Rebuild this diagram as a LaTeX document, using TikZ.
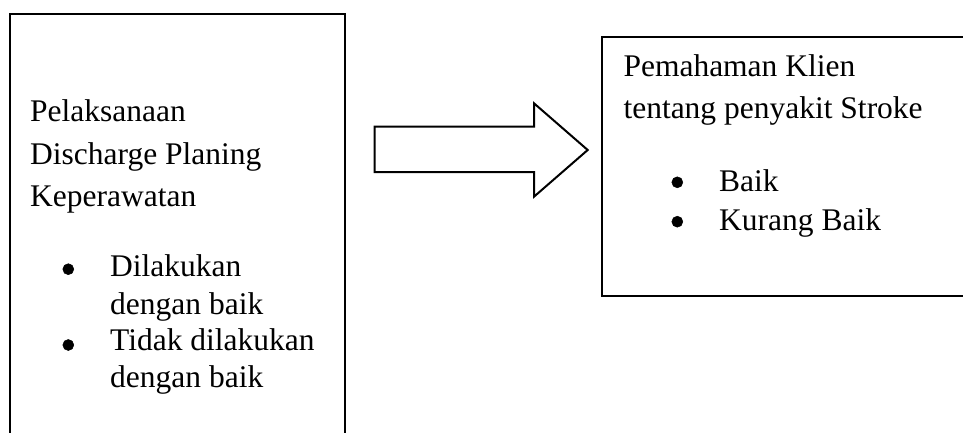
\documentclass[tikz,border=0pt]{standalone}
\usepackage{fontspec}
\setmainfont{Liberation Serif}
\begin{document}
\begin{tikzpicture}[x=1pt,y=-1pt,
  frame/.style={draw=black,line width=2pt},
  txt/.style={anchor=base west,inner sep=0pt,font=\fontsize{31.5}{38}\selectfont},
  dot/.style={circle,fill=black,draw=black,line width=0.5pt,inner sep=0pt,minimum size=11pt}]
\useasboundingbox (0,0) rectangle (963,433);
\clip (0,0) rectangle (963,433);
\fill[white] (0,0) rectangle (963,433);

% left box (runs past the bottom edge)
\draw[frame] (9.5,460) -- (9.5,14) -- (345,14) -- (345,460);
\node[txt] (l1) at (30,121.7) {Pelaksanaan};
\node[txt] (l2) at (30,164) {Discharge Planing};
\node[txt] (l3) at (30,206.7) {Keperawatan};
\node[dot] (b1) at (68.3,269.2) {};
\node[txt] (l4) at (110,276.7) {Dilakukan};
\node[txt] (l5) at (110,314.3) {dengan baik};
\node[dot] (b2) at (68.3,345) {};
\node[txt] (l6) at (110,350) {Tidak dilakukan};
\node[txt] (l7) at (110,387.3) {dengan baik};

% block arrow
\draw[line width=2pt,line join=miter]
  (374.7,126.7) -- (534,126.7) -- (534,103.3) -- (587.7,150)
  -- (534,196.7) -- (534,172) -- (374.7,172) -- cycle;

% right box (runs past the right edge)
\draw[frame] (1000,37.3) -- (602,37.3) -- (602,295.7) -- (1000,295.7);
\node[txt] (r1) at (623.3,76.7) {Pemahaman Klien};
\node[txt] (r2) at (623.3,118.3) {tentang penyakit Stroke};
\node[dot] (b3) at (677.3,182.3) {};
\node[txt] (r3) at (719,191.7) {Baik};
\node[dot] (b4) at (677.3,221.7) {};
\node[txt] (r4) at (719,230) {Kurang Baik};
\end{tikzpicture}
\end{document}
